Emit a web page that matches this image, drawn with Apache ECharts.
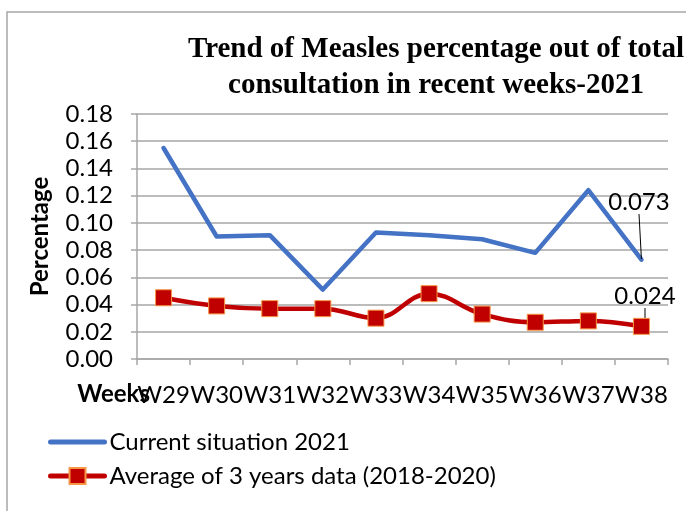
<!DOCTYPE html>
<html><head><meta charset="utf-8">
<script src="https://cdn.jsdelivr.net/npm/echarts@6/dist/echarts.min.js"></script>
<style>html,body{margin:0;padding:0;background:#fff}#c{width:686px;height:511px}</style>
</head><body><div id="c"></div>
<script>
const categories = ['W29','W30','W31','W32','W33','W34','W35','W36','W37','W38'];
const current2021 = [0.155,0.090,0.091,0.051,0.093,0.091,0.088,0.078,0.124,0.073];
const avg3Years = [0.045,0.039,0.037,0.037,0.030,0.048,0.033,0.027,0.028,0.024];
const yTicks = [0,0.02,0.04,0.06,0.08,0.10,0.12,0.14,0.16,0.18];

const chart = echarts.init(document.getElementById('c'));
const sans = 'Lato';
const fs = 24;
const lastBlue = current2021.length-1, lastRed = avg3Years.length-1;
chart.setOption({
  animation:false,
  backgroundColor:'#fff',
  graphic:[{type:'rect',shape:{x:7,y:12,width:700,height:520},style:{fill:'none',stroke:'#a6a6a6',lineWidth:1.5},silent:true}],
  title:{
    text:'Trend of Measles percentage out of total\nconsultation in recent weeks-2021',
    left:431, top:27, textAlign:'center',
    textStyle:{fontFamily:'Liberation Serif',fontWeight:'bold',fontSize:29,lineHeight:36,color:'#000'}
  },
  grid:{left:137,right:18,top:114,bottom:152},
  legend:{
    orient:'vertical',left:43,top:425,itemGap:10,itemWidth:54,itemHeight:20,
    textStyle:{fontFamily:sans,fontSize:fs,color:'#000'},
    lineStyle:{width:5},
    data:[{name:'Current situation 2021',itemStyle:{opacity:0},lineStyle:{width:5,cap:'round'}},
          {name:'Average of 3 years data (2018-2020)',lineStyle:{width:5,cap:'round'}}]
  },
  xAxis:{
    type:'category',data:categories,boundaryGap:true,
    name:'Weeks',nameLocation:'start',nameGap:-13,nameMoveOverlap:false,
    nameTextStyle:{fontFamily:sans,fontWeight:'bold',fontSize:fs,color:'#000',verticalAlign:'top',padding:[23,0,0,0]},
    axisLine:{lineStyle:{color:'#a6a6a6',width:1.5}},
    axisTick:{show:true,length:6,lineStyle:{color:'#a6a6a6',width:1.5}},
    axisLabel:{fontFamily:sans,fontSize:fs,color:'#000',margin:24,interval:0}
  },
  yAxis:{
    type:'value',min:0,max:0.18,interval:0.02,
    name:'Percentage',nameLocation:'middle',nameGap:85,nameRotate:90,
    nameTextStyle:{fontFamily:sans,fontWeight:'bold',fontSize:fs,color:'#000'},
    axisLine:{show:true,lineStyle:{color:'#a6a6a6',width:1.5}},
    axisTick:{show:true,length:6,lineStyle:{color:'#a6a6a6',width:1.5}},
    splitLine:{lineStyle:{color:'#a6a6a6',width:1.5}},
    axisLabel:{fontFamily:sans,fontSize:fs,color:'#000',margin:24,formatter:v=>v.toFixed(2)}
  },
  series:[
    {
      name:'Current situation 2021',type:'line',
      data:current2021.map((v,i)=>i===lastBlue?{value:v,label:{show:true,formatter:'0.073'}}:v),
      symbol:'circle',symbolSize:1,showSymbol:true,
      lineStyle:{color:'#4472C4',width:4.5,cap:'round',join:'round'},itemStyle:{color:'#4472C4'},
      label:{show:false,fontFamily:sans,fontSize:fs,color:'#000',position:'top'},
      labelLine:{show:true,lineStyle:{color:'#000',width:1}},
      labelLayout:function(p){ if(p.dataIndex===lastBlue){return {x:639,y:202,align:'center',verticalAlign:'middle'};} return {}; }
    },
    {
      name:'Average of 3 years data (2018-2020)',type:'line',smooth:0.4,
      data:avg3Years.map((v,i)=>i===lastRed?{value:v,label:{show:true,formatter:'0.024'}}:v),
      symbol:'rect',symbolSize:16,
      lineStyle:{color:'#C00000',width:4.5,cap:'round'},itemStyle:{color:'#C00000',borderColor:'#F79646',borderWidth:1},
      label:{show:false,fontFamily:sans,fontSize:fs,color:'#000',position:'top'},
      labelLine:{show:true,lineStyle:{color:'#000',width:1}},
      labelLayout:function(p){ if(p.dataIndex===lastRed){return {x:645,y:296,align:'center',verticalAlign:'middle'};} return {}; }
    }
  ]
});
</script></body></html>
